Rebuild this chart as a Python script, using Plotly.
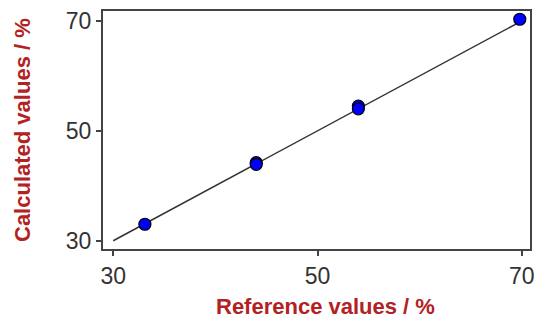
import plotly.graph_objects as go

ref_values = [33.1, 44.0, 44.0, 54.0, 54.0, 69.8]
calc_values = [33.0, 44.2, 43.9, 54.5, 54.0, 70.3]
line_x = [30, 70]
line_y = [30, 70]
tick_vals = [30, 50, 70]
tick_text = ["30", "50", "70"]
x_title = "Reference values / %"
y_title = "Calculated values / %"

W, H = 535, 321
L, R, T, B = 103, 5, 11, 72

fig = go.Figure()
fig.add_trace(go.Scatter(x=line_x, y=line_y, mode="lines",
                         line=dict(color="#333333", width=1.5), showlegend=False))
fig.add_trace(go.Scatter(x=ref_values, y=calc_values, mode="markers",
                         marker=dict(color="#0000ff", size=12,
                                     line=dict(color="#000000", width=1.2)),
                         showlegend=False))

axis_common = dict(showline=True, mirror=True, linecolor="#444444", linewidth=2,
                   ticks="outside", ticklen=5, tickwidth=1.5, tickcolor="#444444",
                   showgrid=False, zeroline=False, automargin=False,
                   ticklabeloverflow="allow",
                   tickfont=dict(family="Liberation Sans, Arial", size=23, color="#333333"),
                   tickvals=tick_vals, ticktext=tick_text)

title_font = dict(family="Liberation Sans, Arial", size=22, color="#b22222")

pw = W - L - R
ph = H - T - B


def px_to_paper(x, y):
    return (x - L) / pw, (H - B - y) / ph


xt = px_to_paper(325, 306)
yt = px_to_paper(22, 130)

fig.update_layout(
    width=W, height=H,
    margin=dict(l=L, r=R, t=T, b=B, autoexpand=False),
    paper_bgcolor="white", plot_bgcolor="white",
    xaxis=dict(range=[29.0, 70.8], **axis_common),
    yaxis=dict(range=[28.5, 71.8], **axis_common),
    annotations=[
        dict(text="<b>" + x_title + "</b>", x=xt[0], y=xt[1], xref="paper", yref="paper",
             xanchor="center", yanchor="middle",
             showarrow=False, font=title_font),
        dict(text="<b>" + y_title + "</b>", x=yt[0], y=yt[1], xref="paper", yref="paper",
             xanchor="center", yanchor="middle",
             showarrow=False, font=title_font, textangle=-90),
    ],
)

fig.write_html("out.html", config={"displayModeBar": False},
               post_script="document.body.style.margin='0';document.body.style.overflow='hidden';")
